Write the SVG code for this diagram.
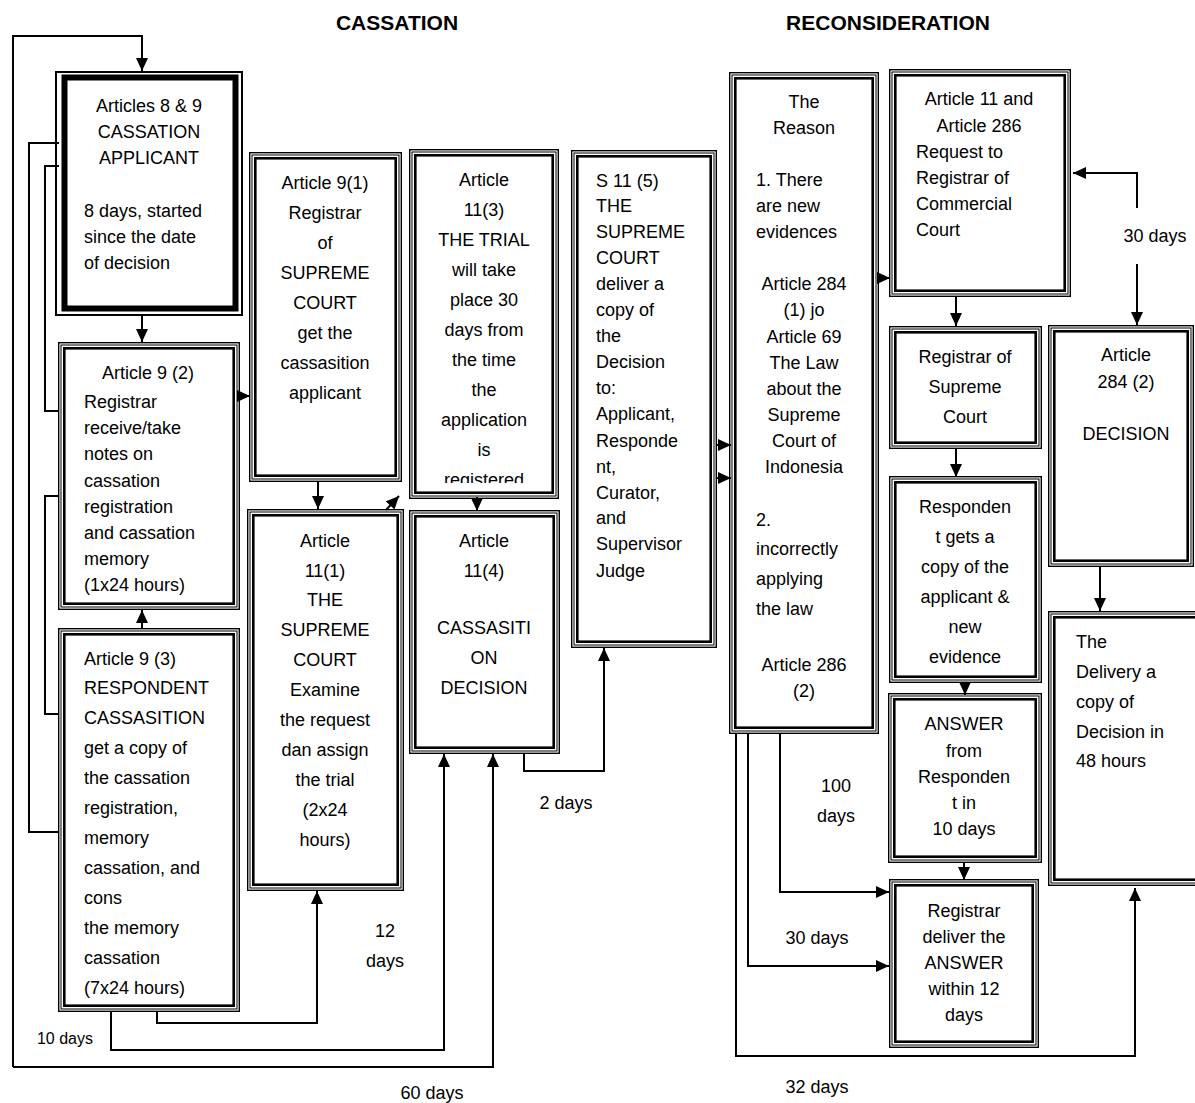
<svg xmlns="http://www.w3.org/2000/svg" width="1195" height="1103" viewBox="0 0 1195 1103">
<style>
.o{fill:none;stroke:#000;stroke-width:1.4}
.m{fill:none;stroke:#000;stroke-width:1}
.i{fill:none;stroke:#000;stroke-width:2.6}
.bg{fill:#fff;stroke:none}
text{font-family:"Liberation Sans",Arial,sans-serif;font-size:18px;fill:#000}
.c{text-anchor:middle}
.lbl{font-size:16px}
.ttl{font-size:21px;font-weight:bold;text-anchor:middle}
.ln{fill:none;stroke:#000;stroke-width:2}
</style>
<defs>
<marker id="ah" markerUnits="userSpaceOnUse" markerWidth="14" markerHeight="12" refX="13" refY="6" orient="auto">
<path d="M0,0 L13,6 L0,12 z" fill="#000"/>
</marker>
<clipPath id="cp5"><rect x="414" y="154" width="140" height="329"/></clipPath>
</defs>
<rect width="1195" height="1103" fill="#fff"/>

<text class="ttl" x="397" y="30">CASSATION</text>
<text class="ttl" x="888" y="30">RECONSIDERATION</text>

<g id="n1">
<rect class="o" x="56" y="72" width="186" height="243" style="stroke-width:2"/>
<rect class="i" x="64.5" y="77.5" width="171" height="231" style="stroke-width:6"/>
<text class="c"><tspan x="149" y="112">Articles 8 &amp; 9</tspan><tspan x="149" y="138">CASSATION</tspan><tspan x="149" y="164">APPLICANT</tspan></text>
<text><tspan x="84" y="217">8 days, started</tspan><tspan x="84" y="243">since the date</tspan><tspan x="84" y="269">of decision</tspan></text>
</g>

<g id="n2">
<rect class="o" x="58.7" y="342.7" width="180.6" height="266.6"/>
<rect class="m" x="61" y="345" width="176" height="262"/>
<rect class="i" x="64.3" y="348.3" width="169.4" height="255.4"/>
<text class="c" x="148" y="379">Article  9 (2)</text>
<text><tspan x="84" y="408">Registrar</tspan><tspan x="84" y="434">receive/take</tspan><tspan x="84" y="460">notes  on</tspan><tspan x="84" y="487">cassation</tspan><tspan x="84" y="513">registration</tspan><tspan x="84" y="539">and cassation</tspan><tspan x="84" y="565">memory</tspan><tspan x="84" y="591">(1x24 hours)</tspan></text>
</g>

<g id="n3">
<rect class="o" x="58.7" y="628.7" width="180.6" height="382.6"/>
<rect class="m" x="61" y="631" width="176" height="378"/>
<rect class="i" x="64.3" y="634.3" width="169.4" height="371.4"/>
<text><tspan x="84" y="665">Article 9 (3)</tspan><tspan x="84" y="694">RESPONDENT</tspan><tspan x="84" y="724">CASSASITION</tspan><tspan x="84" y="754">get a copy of</tspan><tspan x="84" y="784">the cassation</tspan><tspan x="84" y="814">registration,</tspan><tspan x="84" y="844">memory</tspan><tspan x="84" y="874">cassation, and</tspan><tspan x="84" y="904">cons</tspan><tspan x="84" y="934">the memory</tspan><tspan x="84" y="964">cassation</tspan><tspan x="84" y="994">(7x24 hours)</tspan></text>
</g>

<g id="n4">
<rect class="o" x="249.7" y="152.7" width="151.6" height="328.6"/>
<rect class="m" x="252" y="155" width="147" height="324"/>
<rect class="i" x="255.3" y="158.3" width="140.4" height="317.4"/>
<text class="c"><tspan x="325" y="189">Article 9(1)</tspan><tspan x="325" y="219">Registrar</tspan><tspan x="325" y="249">of</tspan><tspan x="325" y="279">SUPREME</tspan><tspan x="325" y="309">COURT</tspan><tspan x="325" y="339">get the</tspan><tspan x="325" y="369">cassasition</tspan><tspan x="325" y="399">applicant</tspan></text>
</g>

<g id="n5">
<rect class="o" x="409.7" y="149.7" width="148.6" height="348.6"/>
<rect class="m" x="412" y="152" width="144" height="344"/>
<rect class="i" x="415.3" y="155.3" width="137.4" height="337.4"/>
<text class="c" clip-path="url(#cp5)"><tspan x="484" y="186">Article</tspan><tspan x="484" y="216">11(3)</tspan><tspan x="484" y="246">THE TRIAL</tspan><tspan x="484" y="276">will take</tspan><tspan x="484" y="306">place 30</tspan><tspan x="484" y="336">days from</tspan><tspan x="484" y="366">the time</tspan><tspan x="484" y="396">the</tspan><tspan x="484" y="426">application</tspan><tspan x="484" y="456">is</tspan><tspan x="484" y="486">registered</tspan></text>
</g>

<g id="n6">
<rect class="o" x="247.7" y="509.7" width="155.6" height="380.6"/>
<rect class="m" x="250" y="512" width="151" height="376"/>
<rect class="i" x="253.3" y="515.3" width="144.4" height="369.4"/>
<text class="c"><tspan x="325" y="547">Article</tspan><tspan x="325" y="577">11(1)</tspan><tspan x="325" y="606">THE</tspan><tspan x="325" y="636">SUPREME</tspan><tspan x="325" y="666">COURT</tspan><tspan x="325" y="696">Examine</tspan><tspan x="325" y="726">the request</tspan><tspan x="325" y="756">dan assign</tspan><tspan x="325" y="786">the trial</tspan><tspan x="325" y="816">(2x24</tspan><tspan x="325" y="846">hours)</tspan></text>
</g>

<g id="n7">
<rect class="o" x="409.7" y="510.7" width="149.6" height="242.6"/>
<rect class="m" x="412" y="513" width="145" height="238"/>
<rect class="i" x="415.3" y="516.3" width="138.4" height="231.4"/>
<text class="c"><tspan x="484" y="547">Article</tspan><tspan x="484" y="577">11(4)</tspan><tspan x="484" y="634">CASSASITI</tspan><tspan x="484" y="664">ON</tspan><tspan x="484" y="694">DECISION</tspan></text>
</g>

<g id="n8">
<rect class="o" x="571.7" y="150.7" width="144.6" height="496.6"/>
<rect class="m" x="574" y="153" width="140" height="492"/>
<rect class="i" x="577.3" y="156.3" width="133.4" height="485.4"/>
<text><tspan x="596" y="187">S 11 (5)</tspan><tspan x="596" y="212">THE</tspan><tspan x="596" y="238">SUPREME</tspan><tspan x="596" y="264">COURT</tspan><tspan x="596" y="290">deliver a</tspan><tspan x="596" y="316">copy of</tspan><tspan x="596" y="342">the</tspan><tspan x="596" y="368">Decision</tspan><tspan x="596" y="394">to:</tspan><tspan x="596" y="420">Applicant,</tspan><tspan x="596" y="447">Responde</tspan><tspan x="596" y="473">nt,</tspan><tspan x="596" y="499">Curator,</tspan><tspan x="596" y="524">and</tspan><tspan x="596" y="550">Supervisor</tspan><tspan x="596" y="577">Judge</tspan></text>
</g>

<g id="n9">
<rect class="o" x="729.7" y="72.7" width="148.6" height="660.6"/>
<rect class="m" x="732" y="75" width="144" height="656"/>
<rect class="i" x="735.3" y="78.3" width="137.4" height="649.4"/>
<text class="c"><tspan x="804" y="108">The</tspan><tspan x="804" y="134">Reason</tspan></text>
<text><tspan x="756" y="186">1. There</tspan><tspan x="756" y="212">are new</tspan><tspan x="756" y="238">evidences</tspan></text>
<text class="c"><tspan x="804" y="290">Article 284</tspan><tspan x="804" y="316">(1) jo</tspan><tspan x="804" y="343">Article  69</tspan><tspan x="804" y="369">The Law</tspan><tspan x="804" y="395">about the</tspan><tspan x="804" y="421">Supreme</tspan><tspan x="804" y="447">Court of</tspan><tspan x="804" y="473">Indonesia</tspan></text>
<text><tspan x="756" y="526">2.</tspan><tspan x="756" y="555">incorrectly</tspan><tspan x="756" y="585">applying</tspan><tspan x="756" y="615">the law</tspan></text>
<text class="c"><tspan x="804" y="671">Article 286</tspan><tspan x="804" y="697">(2)</tspan></text>
</g>

<g id="n10">
<rect class="o" x="889.7" y="69.7" width="180.6" height="226.6"/>
<rect class="m" x="892" y="72" width="176" height="222"/>
<rect class="i" x="895.3" y="75.3" width="169.4" height="215.4"/>
<text class="c"><tspan x="979" y="105">Article 11 and</tspan><tspan x="979" y="132">Article 286</tspan></text>
<text><tspan x="916" y="158">Request to</tspan><tspan x="916" y="184">Registrar  of</tspan><tspan x="916" y="210">Commercial</tspan><tspan x="916" y="236">Court</tspan></text>
</g>

<g id="n11">
<rect class="o" x="889.7" y="326.7" width="151.6" height="121.6"/>
<rect class="m" x="892" y="329" width="147" height="117"/>
<rect class="i" x="895.3" y="332.3" width="140.4" height="110.4"/>
<text class="c"><tspan x="965" y="363">Registrar of</tspan><tspan x="965" y="393">Supreme</tspan><tspan x="965" y="423">Court</tspan></text>
</g>

<g id="n12">
<rect class="o" x="1048.7" y="325.7" width="144.6" height="240.6"/>
<rect class="m" x="1051" y="328" width="140" height="236"/>
<rect class="i" x="1054.3" y="331.3" width="133.4" height="229.4"/>
<text class="c"><tspan x="1126" y="361">Article</tspan><tspan x="1126" y="388">284 (2)</tspan><tspan x="1126" y="440">DECISION</tspan></text>
</g>

<g id="n13">
<rect class="o" x="889.7" y="476.7" width="151.6" height="205.6"/>
<rect class="m" x="892" y="479" width="147" height="201"/>
<rect class="i" x="895.3" y="482.3" width="140.4" height="194.4"/>
<text class="c"><tspan x="965" y="513">Responden</tspan><tspan x="965" y="543">t gets a</tspan><tspan x="965" y="573">copy of the</tspan><tspan x="965" y="603">applicant &amp;</tspan><tspan x="965" y="633">new</tspan><tspan x="965" y="663">evidence</tspan></text>
</g>

<g id="n14">
<rect class="o" x="888.7" y="693.7" width="152.6" height="168.6"/>
<rect class="m" x="891" y="696" width="148" height="164"/>
<rect class="i" x="894.3" y="699.3" width="141.4" height="157.4"/>
<text class="c"><tspan x="964" y="730">ANSWER</tspan><tspan x="964" y="757">from</tspan><tspan x="964" y="783">Responden</tspan><tspan x="964" y="809">t in</tspan><tspan x="964" y="835">10 days</tspan></text>
</g>

<g id="n15">
<rect class="o" x="889.7" y="879.7" width="148.6" height="167.6"/>
<rect class="m" x="892" y="882" width="144" height="163"/>
<rect class="i" x="895.3" y="885.3" width="137.4" height="156.4"/>
<text class="c"><tspan x="964" y="917">Registrar</tspan><tspan x="964" y="943">deliver the</tspan><tspan x="964" y="969">ANSWER</tspan><tspan x="964" y="995">within 12</tspan><tspan x="964" y="1021">days</tspan></text>
</g>

<g id="n16">
<rect class="o" x="1048.7" y="611.7" width="160" height="273.6"/>
<rect class="m" x="1051" y="614" width="160" height="269"/>
<rect class="i" x="1054.3" y="617.3" width="160" height="262.4"/>
<text><tspan x="1076" y="648">The</tspan><tspan x="1076" y="678">Delivery a</tspan><tspan x="1076" y="708">copy of</tspan><tspan x="1076" y="738">Decision in</tspan><tspan x="1076" y="767">48 hours</tspan></text>
</g>

<g id="connectors">
<path class="ln" d="M142,316 V342" marker-end="url(#ah)"/>
<path class="ln" d="M142,628 V610" marker-end="url(#ah)"/>
<path class="ln" d="M238,396 H250" marker-end="url(#ah)"/>
<path class="ln" d="M318,482 V509" marker-end="url(#ah)"/>
<path class="ln" d="M386,510 L399,496" marker-end="url(#ah)"/>
<path class="ln" d="M477,497 V511" marker-end="url(#ah)"/>
<path class="ln" d="M157,1012 V1023 H317 V891" marker-end="url(#ah)"/>
<path class="ln" d="M111,1012 V1050 H444 V754" marker-end="url(#ah)"/>
<path class="ln" d="M13,1067 H493 V754" marker-end="url(#ah)"/>
<path class="ln" d="M13,1067 V36 H142 V71" marker-end="url(#ah)"/>
<path class="ln" d="M59,143 H29 V832 H59"/>
<path class="ln" d="M59,166 H45 V411 H59"/>
<path class="ln" d="M59,496 H45 V714 H59"/>
<path class="ln" d="M524,754 V771 H604 V648" marker-end="url(#ah)"/>
<path class="ln" d="M716,445 H731" marker-end="url(#ah)"/>
<path class="ln" d="M716,478 H731" marker-end="url(#ah)"/>
<path class="ln" d="M878,278 H890" marker-end="url(#ah)"/>
<path class="ln" d="M956,297 V326" marker-end="url(#ah)"/>
<path class="ln" d="M1137,208 V173 H1073" marker-end="url(#ah)"/>
<path class="ln" d="M1137,264 V325" marker-end="url(#ah)"/>
<path class="ln" d="M956,449 V477" marker-end="url(#ah)"/>
<path class="ln" d="M965,682 V695" marker-end="url(#ah)"/>
<path class="ln" d="M964,863 V880" marker-end="url(#ah)"/>
<path class="ln" d="M1100,567 V611" marker-end="url(#ah)"/>
<path class="ln" d="M780,734 V892 H889" marker-end="url(#ah)"/>
<path class="ln" d="M748,734 V966 H889" marker-end="url(#ah)"/>
<path class="ln" d="M736,734 V1056 H1135 V888" marker-end="url(#ah)"/>
</g>

<g id="labels">
<text class="c lbl" x="65" y="1044">10 days</text>
<text class="c"><tspan x="385" y="937">12</tspan><tspan x="385" y="967">days</tspan></text>
<text class="c" x="432" y="1099">60 days</text>
<text class="c" x="566" y="809">2 days</text>
<text class="c" x="1155" y="242">30 days</text>
<text class="c"><tspan x="836" y="792">100</tspan><tspan x="836" y="822">days</tspan></text>
<text class="c" x="817" y="944">30 days</text>
<text class="c" x="817" y="1093">32 days</text>
</g>
</svg>
